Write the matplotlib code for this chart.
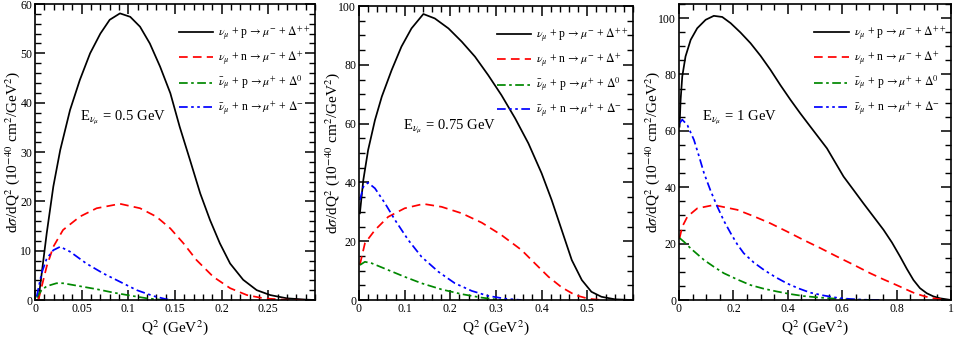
"""Differential cross sections dsigma/dQ^2 for CC Delta production at three energies."""

import matplotlib
matplotlib.use("Agg")
import matplotlib.pyplot as plt
from matplotlib.ticker import MultipleLocator

plt.rcParams["font.family"] = ["Liberation Serif", "DejaVu Serif"]
plt.rcParams["mathtext.fontset"] = "stix"

# ---- data (Q^2 in GeV^2, dsigma/dQ^2 in 1e-40 cm^2/GeV^2) ----
# E = 0.5 GeV
p1_black_q = [0.0036, 0.0125, 0.0196, 0.027, 0.0375, 0.048, 0.059, 0.070, 0.080, 0.091,
              0.102, 0.1125, 0.123, 0.134, 0.145, 0.155, 0.166, 0.177, 0.1875, 0.198,
              0.209, 0.223, 0.2375, 0.252, 0.27, 0.291, 0.3]
p1_black_v = [0, 13.5, 23, 30.4, 38.5, 44.6, 50, 54, 56.8, 58.1, 57.4, 55.4, 52, 47.3,
              41.9, 35.1, 28.4, 21.6, 16.2, 11.5, 7.4, 4.1, 2.0, 1.0, 0.34, 0.07, 0]
p1_red_q = [0.0036, 0.0125, 0.0196, 0.030, 0.048, 0.066, 0.091, 0.1125, 0.130, 0.145,
            0.159, 0.173, 0.191, 0.209, 0.227, 0.245, 0.266, 0.29]
p1_red_v = [0, 6.8, 10.8, 14.2, 16.9, 18.6, 19.5, 18.6, 16.9, 14.5, 11.5, 8.1, 4.7, 2.4,
            1.0, 0.34, 0.07, 0]
p1_green_q = [0.0018, 0.007, 0.0125, 0.023, 0.030, 0.048, 0.066, 0.084, 0.102, 0.12,
              0.134, 0.145]
p1_green_v = [0.5, 2.0, 2.8, 3.4, 3.4, 2.8, 2.2, 1.5, 0.9, 0.34, 0.07, 0]
p1_blue_q = [0.0018, 0.007, 0.0125, 0.0196, 0.027, 0.0375, 0.055, 0.073, 0.091, 0.109,
             0.127, 0.141, 0.148]
p1_blue_v = [0.7, 5.4, 8.4, 10.1, 10.8, 9.8, 7.4, 5.4, 3.7, 2.0, 0.8, 0.14, 0]

# E = 0.75 GeV
p2_black_q = [0.002, 0.0095, 0.020, 0.035, 0.050, 0.0715, 0.093, 0.115, 0.141, 0.166,
              0.196, 0.225, 0.254, 0.283, 0.312, 0.342, 0.371, 0.4, 0.422, 0.444, 0.466,
              0.488, 0.509, 0.531, 0.561, 0.597]
p2_black_v = [29.5, 40.8, 51, 61.2, 69.2, 78.2, 86.2, 92.4, 97.3, 95.8, 92.4, 87.9, 82.8,
              76.5, 69.7, 61.8, 53.3, 43.1, 34, 23.8, 13.6, 6.8, 2.8, 1.1, 0.23, 0]
p2_red_q = [0.002, 0.013, 0.035, 0.064, 0.1, 0.141, 0.181, 0.225, 0.269, 0.312, 0.356,
            0.385, 0.415, 0.444, 0.473, 0.502, 0.531]
p2_red_v = [12, 19.3, 23.8, 28.3, 31.2, 32.7, 31.7, 29.5, 26.3, 22.1, 17.0, 12.5, 7.9,
            4.3, 1.7, 0.45, 0]
p2_green_q = [0.002, 0.013, 0.028, 0.064, 0.1, 0.137, 0.181, 0.225, 0.269, 0.305, 0.327]
p2_green_v = [11.9, 13.0, 12.5, 10.2, 7.9, 5.7, 3.6, 2.0, 0.8, 0.1, 0]
p2_blue_q = [0.002, 0.0095, 0.020, 0.035, 0.057, 0.079, 0.108, 0.137, 0.174, 0.21,
             0.247, 0.283, 0.32, 0.356]
p2_blue_v = [34, 38.5, 39.9, 38, 32.9, 27.2, 20.4, 14.7, 9.6, 5.7, 3.1, 1.4, 0.45, 0]

# E = 1 GeV
p3_black_q = [0.002, 0.006, 0.012, 0.024, 0.043, 0.067, 0.098, 0.128, 0.159, 0.19, 0.226,
              0.263, 0.3, 0.336, 0.373, 0.41, 0.446, 0.483, 0.544, 0.605, 0.642, 0.678,
              0.715, 0.752, 0.783, 0.813, 0.838, 0.862, 0.886, 0.911, 0.935, 0.96, 1.0]
p3_black_v = [61.5, 71, 79.3, 86.4, 92.3, 96.4, 99.4, 100.8, 100.4, 98.2, 94.9, 91.1,
              86.6, 81.7, 76.2, 71, 66.2, 61.5, 53.8, 43.8, 39.0, 34.3, 29.6, 24.9, 20.4,
              15.4, 11.0, 7.1, 4.2, 2.4, 1.3, 0.6, 0]
p3_red_q = [0.002, 0.012, 0.031, 0.067, 0.128, 0.214, 0.275, 0.336, 0.397, 0.458, 0.52,
            0.581, 0.642, 0.703, 0.75, 0.8, 0.832, 0.862, 0.893, 0.923, 0.955, 0.984]
p3_red_v = [21.9, 26, 29.6, 32.5, 33.7, 32, 29.7, 27.2, 24.3, 21.3, 18.4, 15.4, 12.5, 9.5,
            7.4, 5.3, 3.9, 2.6, 1.6, 0.8, 0.35, 0.1]
p3_green_q = [0.002, 0.018, 0.043, 0.092, 0.128, 0.165, 0.214, 0.263, 0.312, 0.361, 0.41,
              0.458, 0.507, 0.556, 0.605, 0.654, 0.72]
p3_green_v = [22, 20.7, 18.3, 14.2, 11.8, 9.5, 7.3, 5.3, 4.0, 3.0, 2.1, 1.4, 0.95, 0.6,
              0.3, 0.1, 0]
p3_blue_q = [0.002, 0.012, 0.031, 0.055, 0.073, 0.092, 0.116, 0.141, 0.165, 0.19, 0.214,
             0.238, 0.275, 0.312, 0.355, 0.397, 0.44, 0.483, 0.532, 0.581, 0.63, 0.678,
             0.75]
p3_blue_v = [62.7, 64, 62, 56.8, 51.2, 45, 38.8, 33.1, 28.1, 23.7, 19.8, 16.6, 13.3, 10.7,
             8.1, 5.9, 4.1, 2.6, 1.6, 0.8, 0.35, 0.1, 0]

energies = ["0.5", "0.75", "1"]
labels = [
    r"$\nu_{\mu}$ + p$\,\rightarrow \mu^{-}$ + $\Delta^{++}$",
    r"$\nu_{\mu}$ + n$\,\rightarrow \mu^{-}$ + $\Delta^{+}$",
    r"$\bar{\nu}_{\mu}$ + p$\,\rightarrow \mu^{+}$ + $\Delta^{0}$",
    r"$\bar{\nu}_{\mu}$ + n$\,\rightarrow \mu^{+}$ + $\Delta^{-}$",
]

styles = [
    dict(color="black", linestyle="-"),
    dict(color="#ff0000", linestyle=(0, (5, 3))),
    dict(color="#008800", linestyle=(0, (5, 2, 1.5, 2))),
    dict(color="#0000ff", linestyle=(0, (5, 2, 1.5, 2, 1.5, 2))),
]

panels = [
    dict(curves=[(p1_black_q, p1_black_v), (p1_red_q, p1_red_v),
                 (p1_green_q, p1_green_v), (p1_blue_q, p1_blue_v)],
         xlim=(0, 0.3), ylim=(0, 60), xmin=0.01, ymaj=10, ymin=2,
         xticks=[0, 0.05, 0.1, 0.15, 0.2, 0.25], rect=[0.0366, 0.1304, 0.2926, 0.858],
         epos=(0.16, 0.615), ylab_x=22),
    dict(curves=[(p2_black_q, p2_black_v), (p2_red_q, p2_red_v),
                 (p2_green_q, p2_green_v), (p2_blue_q, p2_blue_v)],
         xlim=(0, 0.6), ylim=(0, 100), xmin=0.02, ymaj=20, ymin=5,
         xticks=[0, 0.1, 0.2, 0.3, 0.4, 0.5], rect=[0.3751, 0.1304, 0.2863, 0.852],
         epos=(0.16, 0.59), ylab_x=342),
    dict(curves=[(p3_black_q, p3_black_v), (p3_red_q, p3_red_v),
                 (p3_green_q, p3_green_v), (p3_blue_q, p3_blue_v)],
         xlim=(0, 1), ylim=(0, 105), xmin=0.05, ymaj=20, ymin=5,
         xticks=[0, 0.2, 0.4, 0.6, 0.8, 1], rect=[0.7095, 0.1304, 0.2842, 0.858],
         epos=(0.085, 0.615), ylab_x=662),
]

fig = plt.figure(figsize=(9.57, 3.45), dpi=100)
fig_w_px = fig.get_figwidth() * fig.dpi

for panel, energy in zip(panels, energies):
    ax = fig.add_axes(panel["rect"])
    for (q, v), st, lab in zip(panel["curves"], styles, labels):
        ax.plot(q, v, lw=1.25, label=lab, **st)

    ax.set_xlim(*panel["xlim"])
    ax.set_ylim(*panel["ylim"])
    ax.set_xticks(panel["xticks"])
    ax.set_xticklabels([f"{t:g}" for t in panel["xticks"]])
    ax.xaxis.set_minor_locator(MultipleLocator(panel["xmin"]))
    ax.yaxis.set_major_locator(MultipleLocator(panel["ymaj"]))
    ax.yaxis.set_minor_locator(MultipleLocator(panel["ymin"]))
    ax.tick_params(which="both", direction="in", top=True, right=True, labelsize=8.5,
                   pad=2)
    ax.tick_params(which="major", length=7, width=1.1)
    ax.tick_params(which="minor", length=4, width=1.0)
    for sp in ax.spines.values():
        sp.set_linewidth(1.2)

    ax.set_xlabel(r"Q$^2$ (GeV$^2$)", fontsize=11, labelpad=2.5)
    ax.set_ylabel(r"d$\sigma$/dQ$^2$ (10$^{-40}$ cm$^2$/GeV$^2$)", fontsize=11)
    # y label: its right edge sits at the same pixel column as in the source figure
    pos = ax.get_position()
    ax.yaxis.set_label_coords((panel["ylab_x"] - pos.x0 * fig_w_px) / (pos.width * fig_w_px),
                              0.5)

    ax.text(*panel["epos"], r"E$_{\nu_{\mu}}$ = " + energy + " GeV", transform=ax.transAxes,
            fontsize=10.5, ha="left", va="center")

    ax.legend(loc="upper right", bbox_to_anchor=(1.01, 0.955), frameon=False, fontsize=8.5,
              handlelength=2.9, handletextpad=0.45, labelspacing=0.6, borderaxespad=0.2)

fig.savefig("out.png", dpi=100)
